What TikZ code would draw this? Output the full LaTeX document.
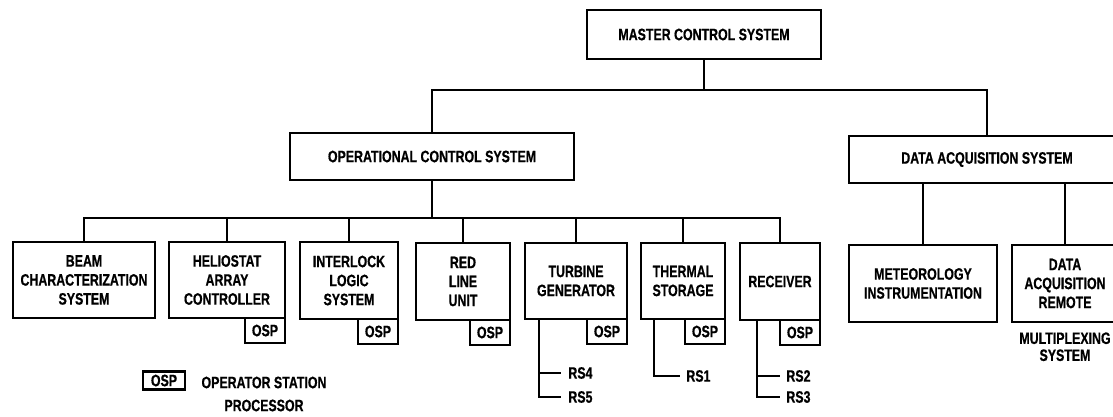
\documentclass[tikz,border=0pt]{standalone}
\usepackage{fontspec}
\setmainfont{Liberation Sans}[FakeStretch=0.75,FakeBold=0.6]
\begin{document}
\begin{tikzpicture}[x=1pt,y=-1pt,
  line width=2.8pt,
  box/.style={draw, line width=2.8pt, outer sep=0pt, inner sep=0pt, align=center,
    font=\fontsize{16.5}{19}\selectfont\bfseries},
  ospbox/.style={draw, line width=2.6pt, outer sep=0pt, inner sep=0pt,
    minimum width=40, minimum height=25, anchor=north east,
    font=\fontsize{16.5}{19}\selectfont\bfseries},
  lbl/.style={inner sep=0pt, font=\fontsize{16.5}{19}\selectfont\bfseries},
  rs/.style={lbl, anchor=west}
]
\useasboundingbox (0,0) rectangle (1113,416);
\clip (0,0) rectangle (1113,416);

% top levels
\node[box, minimum width=234, minimum height=49] (master) at (704,34.5) {MASTER CONTROL SYSTEM};
\node[box, minimum width=284, minimum height=47] (ocs) at (432,156.5) {OPERATIONAL CONTROL SYSTEM};
\node[box, minimum width=276, minimum height=47] (das) at (987,159.5) {DATA ACQUISITION SYSTEM};

% second level
\node[box, minimum width=142, minimum height=76] (beam) at (84,280) {BEAM\\CHARACTERIZATION\\SYSTEM};
\node[box, minimum width=116, minimum height=76] (hel) at (227,280) {HELIOSTAT\\ARRAY\\CONTROLLER};
\node[box, minimum width=98, minimum height=77] (ilk) at (349,280.5) {INTERLOCK\\LOGIC\\SYSTEM};
\node[box, minimum width=94, minimum height=77] (red) at (463,281.5) {RED\\LINE\\UNIT};
\node[box, minimum width=102, minimum height=76] (tg) at (576,281) {TURBINE\\GENERATOR};
\node[box, minimum width=84, minimum height=76] (ts) at (683,281) {THERMAL\\STORAGE};
\node[box, minimum width=80, minimum height=77] (rcv) at (780,281.5) {RECEIVER};
\node[box, minimum width=148, minimum height=77] (met) at (923,283.5) {METEOROLOGY\\INSTRUMENTATION};
\node[box, minimum width=106, minimum height=77] (dar) at (1065,283.5) {DATA\\ACQUISITION\\REMOTE};
\node[lbl, align=center, font=\fontsize{16.5}{17}\selectfont\bfseries, anchor=north] (mux) at (1065,331) {MULTIPLEXING\\SYSTEM};

% OSP boxes
\node[ospbox] (hosp) at (hel.south east) {OSP};
\node[ospbox] (iosp) at (ilk.south east) {OSP};
\node[ospbox] (rosp) at (red.south east) {OSP};
\node[ospbox] (tosp) at (tg.south east) {OSP};
\node[ospbox] (sosp) at (ts.south east) {OSP};
\node[ospbox] (cosp) at (rcv.south east) {OSP};

% legend
\node[ospbox, minimum width=42, minimum height=18, anchor=center] (legosp) at (164,380.5) {OSP};
\node[lbl, align=center] (legtxt) at (264,394) {OPERATOR STATION\\[4pt]PROCESSOR};

% connectors top
\coordinate (mj) at (704,90);
\draw (master.south) -- (mj);
\draw (ocs.north) |- (mj) -| (das.north);

% bus
\coordinate (bus) at (432,218);
\draw (ocs.south) -- (bus);
\draw (beam.north) |- (bus) -| (rcv.north);
\foreach \n in {hel,ilk,red,tg,ts} \draw (\n.north) -- (\n.north |- bus);

% DAS children
\draw (met.north) -- (met.north |- das.south);
\draw (dar.north) -- (dar.north |- das.south);

% RS labels
\node[rs] (rs4) at (567,373) {RS4};
\node[rs] (rs5) at (567,397) {RS5};
\node[rs] (rs1) at (685,376) {RS1};
\node[rs] (rs2) at (785,376) {RS2};
\node[rs] (rs3) at (785,397) {RS3};

\draw ([xshift=14]tg.south west) |- ([xshift=-6]rs5.west);
\draw ([xshift=14]tg.south west |- rs4.west) -- ([xshift=-6]rs4.west);
\draw ([xshift=13]ts.south west) |- ([xshift=-5]rs1.west);
\draw ([xshift=17]rcv.south west) |- ([xshift=-5]rs3.west);
\draw ([xshift=17]rcv.south west |- rs2.west) -- ([xshift=-5]rs2.west);
\end{tikzpicture}
\end{document}
